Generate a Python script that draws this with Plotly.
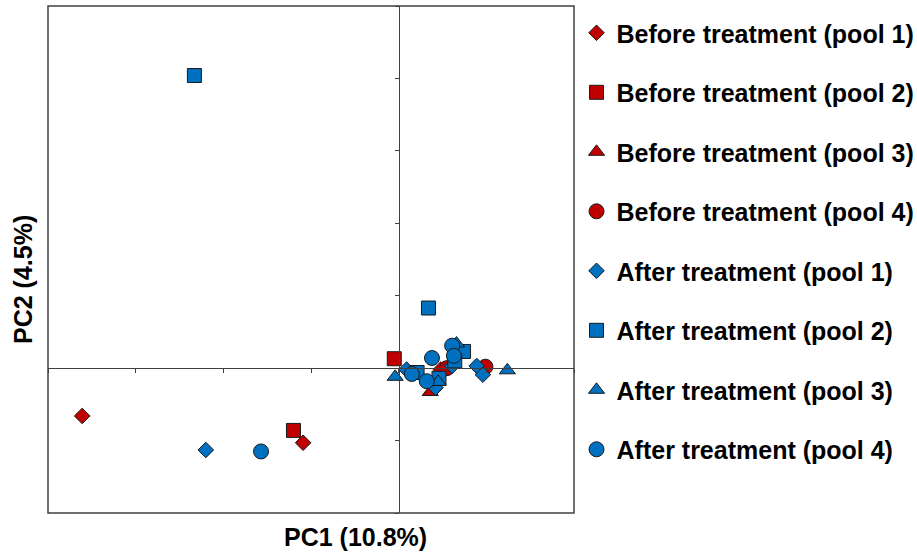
import plotly.graph_objects as go

# PCA scores (PC1, PC2) per group
before1_x = [-0.361, -0.109, 0.048]
before1_y = [-0.066, -0.103, -0.002]
before2_x = [-0.120, -0.005]
before2_y = [-0.086, 0.013]
before3_x = [0.036]
before3_y = [-0.033]
before4_x = [0.099, 0.055]
before4_y = [0.002, 0.000]

after1_x = [-0.220, 0.009, 0.042, 0.061, 0.089, 0.096]
after1_y = [-0.113, -0.002, -0.027, 0.003, 0.003, -0.009]
after2_x = [-0.233, 0.034, 0.021, 0.046, 0.074, 0.064]
after2_y = [0.404, 0.083, -0.006, -0.014, 0.023, 0.010]
after3_x = [-0.004, 0.045, 0.066, 0.124]
after3_y = [-0.012, -0.019, 0.034, -0.003]
after4_x = [-0.157, 0.015, 0.038, 0.032, 0.061, 0.063]
after4_y = [-0.115, -0.008, 0.014, -0.018, 0.031, 0.017]

labels = [
    "Before treatment (pool 1)", "Before treatment (pool 2)",
    "Before treatment (pool 3)", "Before treatment (pool 4)",
    "After treatment (pool 1)", "After treatment (pool 2)",
    "After treatment (pool 3)", "After treatment (pool 4)",
]
xs = [before1_x, before2_x, before3_x, before4_x, after1_x, after2_x, after3_x, after4_x]
ys = [before1_y, before2_y, before3_y, before4_y, after1_y, after2_y, after3_y, after4_y]

RED = "#C00000"
BLUE = "#0070C0"
colors = [RED] * 4 + [BLUE] * 4
symbols = ["diamond", "square", "triangle-up", "circle"] * 2
sizes = {"diamond": 12, "square": 14, "triangle-up": 14, "circle": 15}

FONT = "Liberation Sans, Arial, sans-serif"
FS = 25

fig = go.Figure()
for i, (name, x, y) in enumerate(zip(labels, xs, ys)):
    fig.add_trace(go.Scatter(
        x=x, y=y, mode="markers", name=name, legendgroup=f"g{i}",
        marker=dict(symbol=symbols[i], size=sizes[symbols[i]], color=colors[i],
                    line=dict(color="#1a1a1a", width=1)),
    ))

axis_line = "#404040"
fig.update_layout(
    width=917, height=554,
    margin=dict(l=48, r=343, t=6, b=41, autoexpand=False),
    plot_bgcolor="white", paper_bgcolor="white",
    font=dict(family=FONT, color="black"),
    xaxis=dict(range=[-0.4, 0.2], dtick=0.1, tick0=0, showgrid=False, zeroline=False,
               showline=True, linecolor=axis_line, linewidth=1.3,
               anchor="free", position=2 / 7,
               ticks="outside", ticklen=4, tickwidth=1, tickcolor=axis_line,
               showticklabels=False),
    yaxis=dict(range=[-0.2, 0.5], dtick=0.1, tick0=0, showgrid=False, zeroline=False,
               showline=True, linecolor=axis_line, linewidth=1.3,
               anchor="free", position=4 / 6,
               ticks="outside", ticklen=4, tickwidth=1, tickcolor=axis_line,
               showticklabels=False),
    legend=dict(x=1.0048, xanchor="left", y=0.992, yanchor="top",
                font=dict(family=FONT, size=FS, color="black", weight="bold"),
                tracegroupgap=24, bgcolor="rgba(0,0,0,0)", borderwidth=0),
    shapes=[dict(type="rect", xref="paper", yref="paper", x0=0, x1=1, y0=0, y1=1,
                 line=dict(color=axis_line, width=1.5), layer="above")],
    annotations=[
        dict(text="<b>PC1 (10.8%)</b>", xref="paper", yref="paper",
             x=(355 - 48) / 526, y=-24 / 507, xanchor="center", yanchor="middle",
             showarrow=False, font=dict(family=FONT, size=FS, color="black")),
        dict(text="<b>PC2 (4.5%)</b>", xref="paper", yref="paper",
             x=-25 / 526, y=(513 - 280) / 507, xanchor="center", yanchor="middle",
             textangle=-90, showarrow=False, font=dict(family=FONT, size=FS, color="black")),
    ],
)

fig.write_html("out.html")
